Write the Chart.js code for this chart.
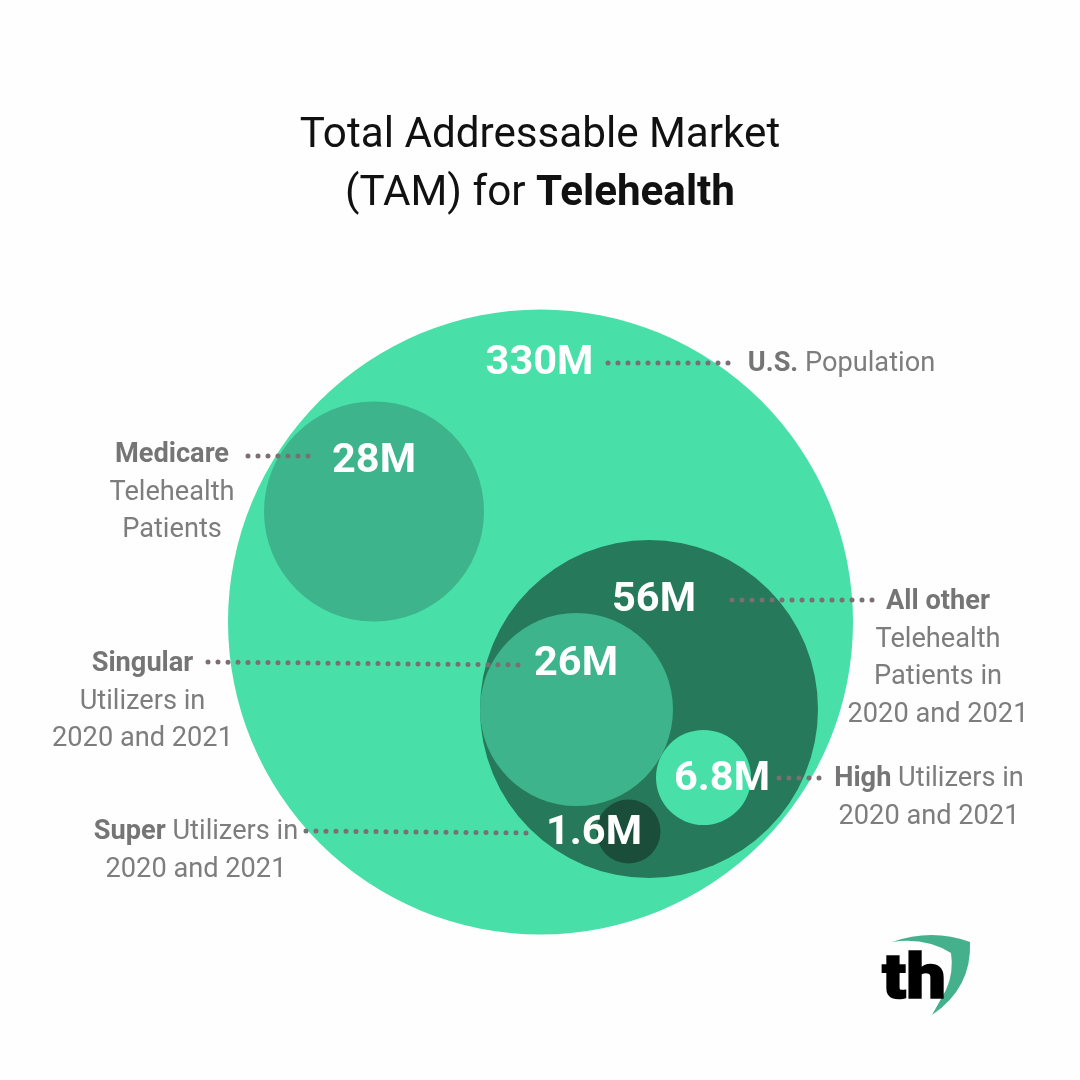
<!DOCTYPE html>
<html>
<head>
<meta charset="utf-8">
<title>TAM for Telehealth</title>
<script src="https://cdn.jsdelivr.net/npm/chart.js@4"></script>
<style>
    html, body { margin: 0; padding: 0; background: #fefefe; }
    body { width: 1080px; height: 1080px; position: relative; overflow: hidden; font-family: Roboto, sans-serif; }
    canvas { position: absolute; left: 0; top: 0; }
    .title { position: absolute; left: 0; width: 1080px; top: 104px; text-align: center; font-size: 42.2px; line-height: 58px; color: #111; }
    .title b { font-weight: 700; }
    .note { position: absolute; transform: translateX(-50%); white-space: nowrap; text-align: center; font-size: 27.2px; line-height: 37.7px; color: #7d7d7d; }
    .note b { color: #757575; font-weight: 700; }
    svg { position: absolute; left: 860px; top: 920px; }
</style>
</head>
<body>
<canvas id="tamChart" width="1080" height="1080"></canvas>
<div class="title">Total Addressable Market<br>(TAM) for <b>Telehealth</b></div>
<svg width="130" height="110" viewBox="860 920 130 110">
    <path d="M892 942 Q932 928 970 942 Q972 988 932 1015 L946 990 Q954 972 951 953 Q925 937 892 942 Z" fill="#44b18c"></path>
    <text x="882" y="998" font-family="Roboto" font-weight="900" font-size="63" stroke="#000" stroke-width="1.5" textLength="64" lengthAdjust="spacingAndGlyphs" fill="#000">th</text>
</svg>

<script>
const valueLabels = ['330M', '28M', '56M', '26M', '6.8M', '1.6M'];
const bubbleX = [540.5, 374, 649, 576.5, 703.5, 628.5];
const bubbleY = [622, 511.5, 709, 709.5, 777.5, 831.5];
const bubbleR = [312.5, 110, 169, 96.5, 47.5, 32];
const bubbleColors = ['#48dfa8', '#3db48b', '#27795b', '#3db48b', '#48dfa8', '#1a4e3b'];

const valueX = [539.5, 374, 654, 576, 722, 594];
const valueY = [364, 462, 601, 665, 780, 834];

const leaderStartX = [608, 248, 732, 208, 779, 306];
const leaderStartY = [363, 456, 600, 662, 778, 831];
const leaderEndX = [731, 312, 878, 524, 822, 532];
const leaderEndY = [363, 456, 600, 665, 778, 833];

const noteBold = ['U.S.', 'Medicare', 'All other', 'Singular', 'High', 'Super'];
const noteRest = [
    [' Population'],
    ['', 'Telehealth', 'Patients'],
    ['', 'Telehealth', 'Patients in', '2020 and 2021'],
    ['', 'Utilizers in', '2020 and 2021'],
    [' Utilizers in', '2020 and 2021'],
    [' Utilizers in', '2020 and 2021']
];
const noteX = [841.5, 172, 938, 142.5, 929, 196];
const noteTop = [344, 435, 582, 644, 759, 812];

// text inside the bubbles, drawn after the leaders
const valueTextPlugin = {
    id: 'valueText',
    afterDatasetsDraw(chart) {
        const ctx = chart.ctx;
        ctx.save();
        ctx.font = '700 41.5px Roboto';
        ctx.fillStyle = '#ffffff';
        ctx.textAlign = 'center';
        ctx.textBaseline = 'middle';
        valueLabels.forEach((label, i) => {
            ctx.fillText(label, chart.scales.x.getPixelForValue(valueX[i]), chart.scales.y.getPixelForValue(valueY[i]));
        });
        ctx.restore();
    }
};

const leaders = leaderStartX.map((x, i) => ({
    type: 'line',
    data: [{ x: x, y: leaderStartY[i] }, { x: leaderEndX[i], y: leaderEndY[i] }],
    borderColor: '#7c6f73',
    borderWidth: 5,
    borderCapStyle: 'round',
    borderDash: [0, 10],
    pointRadius: 0,
    fill: false
}));

new Chart(document.getElementById('tamChart').getContext('2d'), {
    type: 'bubble',
    data: {
        datasets: [...leaders, {
            data: bubbleX.map((x, i) => ({ x: x, y: bubbleY[i], r: bubbleR[i] })),
            backgroundColor: bubbleColors,
            borderWidth: 0,
            hoverBorderWidth: 0,
            clip: false
        }]
    },
    options: {
        responsive: false,
        animation: false,
        devicePixelRatio: 1,
        events: [],
        layout: { padding: 0, autoPadding: false },
        plugins: { legend: { display: false }, tooltip: { enabled: false } },
        scales: {
            x: { type: 'linear', min: 0, max: 1080, display: false },
            y: { type: 'linear', min: 0, max: 1080, reverse: true, display: false }
        }
    },
    plugins: [valueTextPlugin]
});

noteBold.forEach((bold, i) => {
    const note = document.createElement('div');
    note.className = 'note';
    note.style.left = noteX[i] + 'px';
    note.style.top = noteTop[i] + 'px';
    const lines = noteRest[i].slice();
    lines[0] = '<b>' + bold + '</b>' + lines[0];
    note.innerHTML = lines.join('<br>');
    document.body.appendChild(note);
});
</script>
</body>
</html>
